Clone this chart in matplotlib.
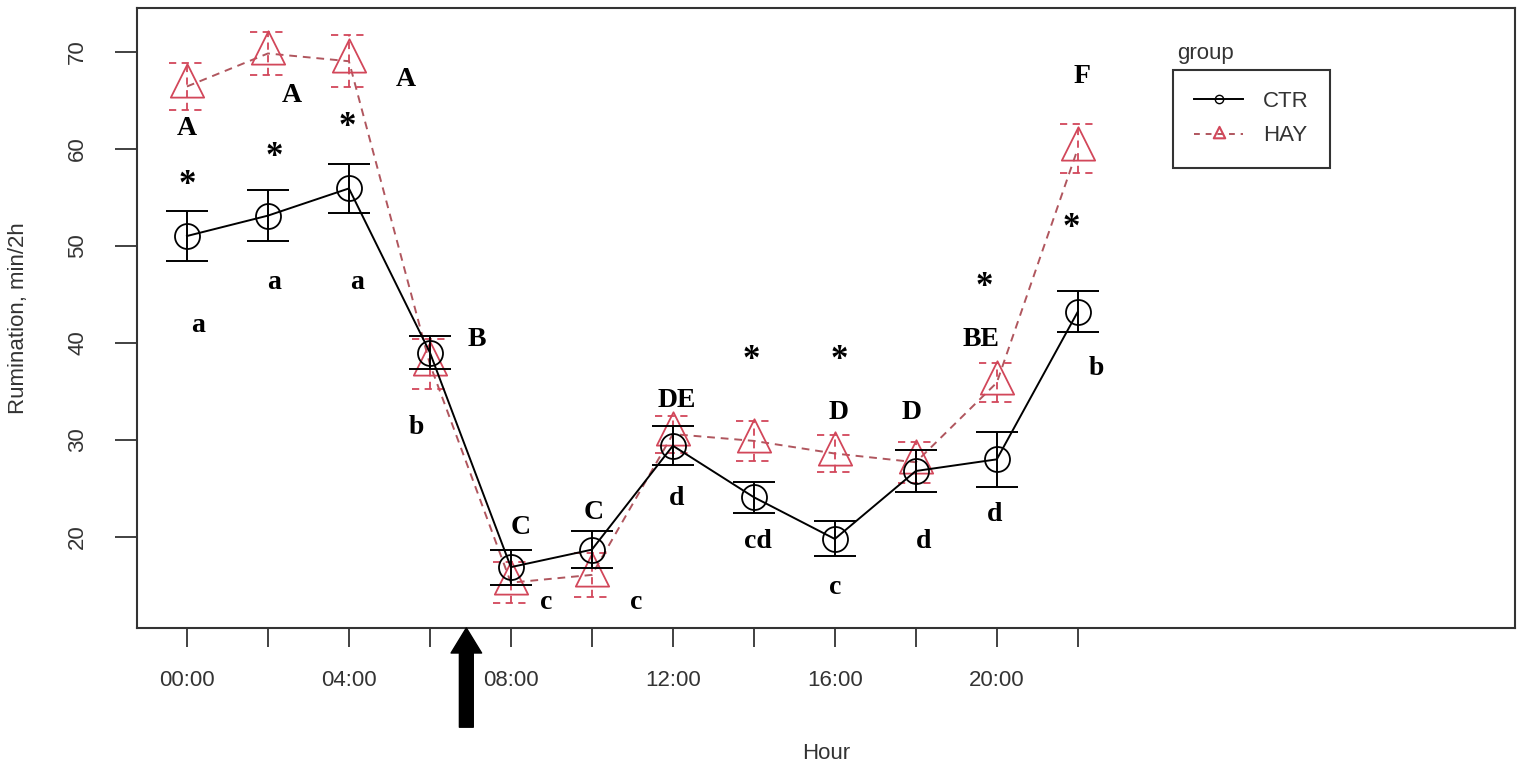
import numpy as np
import matplotlib
matplotlib.use("Agg")
import matplotlib.pyplot as plt
from matplotlib.lines import Line2D
from matplotlib.path import Path

# ----- data -----
hours = [0, 2, 4, 6, 8, 10, 12, 14, 16, 18, 20, 22]
hour_labels = ["00:00", "", "04:00", "", "08:00", "", "12:00", "", "16:00", "", "20:00", ""]

ctr_mean = [51.0, 53.1, 55.9, 39.0, 16.9, 18.7, 29.4, 24.1, 19.8, 26.8, 28.0, 43.2]
ctr_se = [2.6, 2.6, 2.5, 1.7, 1.8, 1.9, 2.0, 1.6, 1.8, 2.2, 2.8, 2.1]

hay_mean = [66.4, 69.8, 69.0, 37.8, 15.3, 16.1, 30.6, 29.9, 28.6, 27.7, 35.9, 60.0]
hay_se = [2.4, 2.2, 2.7, 2.6, 2.1, 2.3, 1.9, 2.1, 1.9, 2.1, 2.0, 2.5]

feeding_hour = 6.9

# ----- letters / asterisks (text, x, y) -----
notes = [
    ("A", 0.0, 62.1), ("*", 0.0, 57.3), ("a", 0.27, 41.8),
    ("A", 2.6, 65.5), ("*", 2.15, 60.2), ("a", 2.15, 46.2),
    ("A", 5.4, 67.1), ("*", 3.95, 63.3), ("a", 4.2, 46.2),
    ("B", 7.17, 40.3), ("b", 5.67, 31.3),
    ("C", 8.25, 21.0), ("c", 8.87, 13.3),
    ("C", 10.05, 22.5), ("c", 11.1, 13.3),
    ("DE", 12.1, 34.1), ("d", 12.1, 24.0),
    ("*", 13.94, 39.3), ("cd", 14.1, 19.5),
    ("*", 16.1, 39.3), ("D", 16.1, 32.8), ("c", 16.0, 14.85),
    ("D", 17.9, 32.8), ("d", 18.2, 19.5),
    ("BE", 19.6, 40.3), ("*", 19.7, 46.8), ("d", 19.95, 22.3),
    ("F", 22.1, 67.4), ("*", 21.85, 52.85), ("b", 22.45, 37.4),
]

red = "#D2475A"
red_line = "#B0565E"
grey_txt = "#333333"

# R pch=2 style triangle, centred on its centroid
tri = Path([(0, 1), (-0.75, -0.5), (0.75, -0.5), (0, 1)],
           [Path.MOVETO, Path.LINETO, Path.LINETO, Path.CLOSEPOLY])

plt.rcParams['font.family'] = ['Liberation Sans', 'DejaVu Sans']

fig = plt.figure(figsize=(15.3, 7.64), dpi=100)
ax = fig.add_axes([0.0895, 0.178, 0.9005, 0.8115])

x = np.array(hours, dtype=float)

# ----- CTR -----
ax.plot(x, ctr_mean, color="black", lw=1.4, marker="o", ms=18,
        mfc="none", mec="black", mew=1.3, zorder=3)
ax.errorbar(x, ctr_mean, yerr=ctr_se, fmt="none", ecolor="black",
            elinewidth=1.4, capsize=15, capthick=1.4, zorder=3)

# ----- HAY -----
ax.plot(x, hay_mean, color=red_line, lw=1.4, ls=(0, (4, 3)), marker=tri,
        ms=32, mfc="none", mec=red, mew=1.3, zorder=2)
hay_lo = np.array(hay_mean) - np.array(hay_se)
hay_hi = np.array(hay_mean) + np.array(hay_se)
ax.vlines(x, hay_lo, hay_hi, colors=red, lw=1.3, linestyles=(0, (4, 3)), zorder=2)
ax.hlines(hay_lo, x - 0.45, x + 0.45, colors=red, lw=1.3, linestyles=(0, (4, 3)), zorder=2)
ax.hlines(hay_hi, x - 0.45, x + 0.45, colors=red, lw=1.3, linestyles=(0, (4, 3)), zorder=2)

# ----- letters -----
for txt, tx, ty in notes:
    size = 20
    if txt == "*":
        size = 25
        ty = ty - 1.1
    ax.text(tx, ty, txt, ha="center", va="center", fontsize=size,
            fontweight="bold", family=["Liberation Serif", "DejaVu Serif"],
            color="black", zorder=4)

# ----- feeding arrow -----
ax.annotate("", xy=(feeding_hour, 0.0), xycoords=("data", "axes fraction"),
            xytext=(feeding_hour, -0.16), textcoords=("data", "axes fraction"),
            arrowprops=dict(arrowstyle="simple,head_length=0.9,head_width=1.1,tail_width=0.5",
                            color="black", mutation_scale=20, shrinkA=0, shrinkB=0),
            annotation_clip=False)

# ----- axes -----
ax.set_xlim(-1.235, 32.79)
ax.set_ylim(10.63, 74.48)
ax.set_xticks(hours)
ax.set_xticklabels(hour_labels)
ax.set_yticks([20, 30, 40, 50, 60, 70])
ax.set_yticklabels(["20", "30", "40", "50", "60", "70"], rotation=90, va="center")
ax.tick_params(axis="x", length=14, width=1.3, pad=16, labelsize=16,
               colors="#333333", labelcolor=grey_txt)
ax.tick_params(axis="y", length=16, width=1.3, pad=19, labelsize=16,
               colors="#333333", labelcolor=grey_txt)
for s in ax.spines.values():
    s.set_color("#333333")
    s.set_linewidth(1.5)

ax.set_xlabel("Hour", fontsize=16, color=grey_txt)
ax.xaxis.set_label_coords(0.5, -0.185)
ax.set_ylabel("Rumination, min/2h", fontsize=16, color=grey_txt)
ax.yaxis.set_label_coords(-0.078, 0.5)

# ----- legend -----
handles = [
    Line2D([], [], color="black", lw=1.4, marker="o", ms=6, mfc="none", mec="black"),
    Line2D([], [], color=red_line, lw=1.4, ls=(0, (3, 3)), marker=tri, ms=11,
           mfc="none", mec=red, mew=1.5),
]
leg = ax.legend(handles, ["CTR", "HAY"], loc="upper left",
                bbox_to_anchor=(0.752, 0.90), borderaxespad=0, fontsize=16,
                handlelength=2.2, handletextpad=0.9, labelspacing=0.6,
                borderpad=0.95, fancybox=False, framealpha=1)
leg.get_frame().set_edgecolor("#333333")
leg.get_frame().set_linewidth(1.5)
for t in leg.get_texts():
    t.set_color(grey_txt)
ax.text(0.7547, 0.927, "group", transform=ax.transAxes, ha="left", va="center",
        fontsize=16, color=grey_txt)

fig.savefig("out.png", dpi=100)
